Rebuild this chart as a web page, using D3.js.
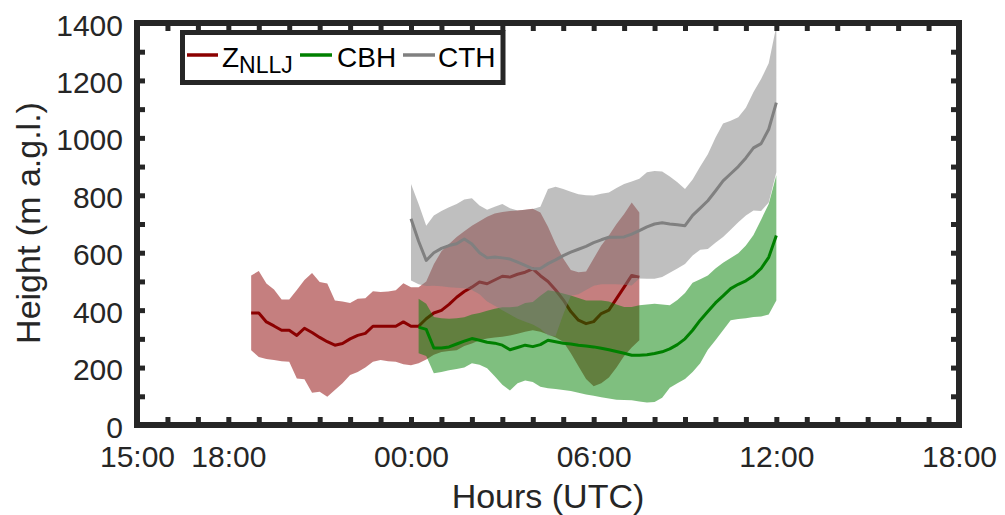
<!DOCTYPE html>
<html>
<head>
<meta charset="utf-8">
<script src="https://cdn.jsdelivr.net/npm/d3@7"></script>
<style>
  html, body { margin: 0; padding: 0; background: #fff; }
  svg { display: block; font-family: "Liberation Sans", Arial, Helvetica, sans-serif; }
</style>
</head>
<body>
<svg id="chart" width="1005" height="515"></svg>
<script>
// ---- data (hours relative to 00:00 UTC; heights in m a.g.l.) ----
const nlljTime = [-5.25,-5,-4.75,-4.5,-4.25,-4,-3.75,-3.5,-3.25,-3,-2.75,-2.5,-2.25,-2,-1.75,-1.5,-1.25,-1,-0.75,-0.5,-0.25,0,0.25,0.5,0.75,1,1.25,1.5,1.75,2,2.25,2.5,2.75,3,3.25,3.5,3.75,4,4.25,4.5,4.75,5,5.25,5.5,5.75,6,6.25,6.5,6.75,7,7.25,7.5];
const nlljMean  = [390,390,359,345,330,330,312,337,322,305,290,278,284,300,312,319,344,344,344,344,359,344,344,370,390,399,420,445,465,480,498,492,505,518,515,525,532,544,520,500,470,436,395,365,353,360,388,400,440,480,521,515];
const nlljUpper = [521,536,493,472,437,437,470,505,529,498,493,434,430,425,440,441,466,463,465,469,494,480,480,500,560,605,630,655,675,694,710,725,737,742,745,747,750,753,740,690,630,580,540,532,535,580,625,660,700,735,775,740];
const nlljLower = [260,237,230,226,222,220,162,159,112,116,98,122,145,174,185,200,220,226,222,220,212,208,215,228,245,254,258,260,275,284,295,301,305,307,312,318,325,330,325,315,305,290,250,205,160,135,145,165,200,240,270,295];

const cbhTime = [0.25,0.5,0.75,1,1.25,1.5,1.75,2,2.25,2.5,2.75,3,3.25,3.5,3.75,4,4.25,4.5,4.75,5,5.25,5.5,5.75,6,6.25,6.5,6.75,7,7.25,7.5,7.75,8,8.25,8.5,8.75,9,9.25,9.5,9.75,10,10.25,10.5,10.75,11,11.25,11.5,11.75,12];
const cbhMean  = [341,333,268,268,272,282,292,301,295,288,285,278,262,270,278,273,280,295,290,285,282,278,275,272,267,262,256,250,243,243,245,249,255,265,280,300,330,365,395,425,450,475,490,502,520,545,584,660];
const cbhUpper = [440,422,376,372,370,372,375,385,390,398,405,410,410,413,425,428,450,469,465,458,451,442,434,434,434,430,420,411,411,417,420,422,420,417,435,460,495,508,521,545,565,582,598,625,662,715,770,870];
const cbhLower = [250,240,180,185,191,195,200,215,210,198,170,140,120,145,155,150,133,128,125,122,118,112,106,102,97,92,88,87,86,82,78,80,95,130,145,160,185,215,262,295,330,365,369,372,376,378,385,434];

const cthTime = [0,0.25,0.5,0.75,1,1.25,1.5,1.75,2,2.25,2.5,2.75,3,3.25,3.5,3.75,4,4.25,4.5,4.75,5,5.25,5.5,5.75,6,6.25,6.5,6.75,7,7.25,7.5,7.75,8,8.25,8.5,8.75,9,9.25,9.5,9.75,10,10.25,10.5,10.75,11,11.25,11.5,11.75,12];
const cthMean  = [718,640,573,600,615,625,631,648,630,600,582,585,582,578,567,556,544,545,562,575,590,602,612,622,635,645,654,654,655,665,677,690,700,704,700,697,694,730,755,781,815,850,875,900,930,965,980,1030,1123];
const cthUpper = [839,770,694,730,745,758,770,785,790,764,750,760,770,755,747,750,752,760,822,830,822,812,804,800,799,805,810,825,839,848,858,880,885,883,865,845,822,855,900,943,1000,1050,1060,1072,1105,1160,1205,1260,1389];
const cthLower = [503,490,484,485,483,480,478,476,470,455,430,415,400,385,370,360,350,335,312,310,385,450,455,470,485,490,490,490,488,486,510,509,509,515,530,545,561,590,610,613,635,655,680,706,730,747,745,775,880];

const xTickHours  = [-9,-8,-7,-6,-5,-4,-3,-2,-1,0,1,2,3,4,5,6,7,8,9,10,11,12,13,14,15,16,17,18];
const xLabelHours = [-9,-6,0,6,12,18];
const xLabels     = ["15:00","18:00","00:00","06:00","12:00","18:00"];
const yTicks      = [0,100,200,300,400,500,600,700,800,900,1000,1100,1200,1300,1400];
const yLabelTicks = [0,200,400,600,800,1000,1200,1400];

const seriesNames  = ["NLLJ","CBH","CTH"];
const seriesColors = ["#8b0000","#008000","#808080"];

// ---- drawing ----
const ink = "#262626";
const svg = d3.select("#chart");
const x = d3.scaleLinear().domain([-9, 18]).range([137, 959]);
const y = d3.scaleLinear().domain([0, 1400]).range([425, 23]);

function pack(t, m, lo, hi) { return t.map((d, i) => ({t: d, m: m[i], lo: lo[i], hi: hi[i]})); }
const series = [
  pack(nlljTime, nlljMean, nlljLower, nlljUpper),
  pack(cbhTime, cbhMean, cbhLower, cbhUpper),
  pack(cthTime, cthMean, cthLower, cthUpper)
];

const area = d3.area().x(d => x(d.t)).y0(d => y(d.lo)).y1(d => y(d.hi));
const line = d3.line().x(d => x(d.t)).y(d => y(d.m));

const defs = svg.append("defs");
defs.append("clipPath").attr("id", "clip").append("rect")
  .attr("x", x(-9)).attr("y", y(1400)).attr("width", x(18) - x(-9)).attr("height", y(0) - y(1400));

const plot = svg.append("g").attr("clip-path", "url(#clip)");
series.forEach((s, i) => {
  plot.append("path").datum(s).attr("d", area)
    .attr("fill", seriesColors[i]).attr("fill-opacity", 0.5).attr("stroke", "none");
  plot.append("path").datum(s).attr("d", line)
    .attr("fill", "none").attr("stroke", seriesColors[i]).attr("stroke-width", 3)
    .attr("stroke-linejoin", "round");
});

// axes
const xLab = d => { const k = xLabelHours.indexOf(d); return k >= 0 ? xLabels[k] : ""; };
const yLab = d => yLabelTicks.indexOf(d) >= 0 ? String(d) : "";

const gx = svg.append("g").attr("transform", `translate(0,${y(0)})`)
  .call(d3.axisBottom(x).tickValues(xTickHours).tickSize(-8).tickPadding(21).tickFormat(xLab));
const gxt = svg.append("g").attr("transform", `translate(0,${y(1400)})`)
  .call(d3.axisTop(x).tickValues(xTickHours).tickSize(-8).tickFormat(""));
const gy = svg.append("g").attr("transform", `translate(${x(-9)},0)`)
  .call(d3.axisLeft(y).tickValues(yTicks).tickSize(-8).tickPadding(14).tickFormat(yLab));
const gyr = svg.append("g").attr("transform", `translate(${x(18)},0)`)
  .call(d3.axisRight(y).tickValues(yTicks).tickSize(-8).tickFormat(""));

[gx, gxt, gy, gyr].forEach(g => {
  g.select(".domain").remove();
  g.selectAll(".tick line").attr("stroke", ink).attr("stroke-width", 5);
  g.selectAll(".tick text").attr("fill", ink).attr("font-size", 30)
    .attr("font-family", '"Liberation Sans", Arial, sans-serif');
});
gy.selectAll(".tick text").attr("dy", "0.4em");

svg.append("rect").attr("x", x(-9)).attr("y", y(1400))
  .attr("width", x(18) - x(-9)).attr("height", y(0) - y(1400))
  .attr("fill", "none").attr("stroke", ink).attr("stroke-width", 6);

// axis labels
svg.append("text").attr("x", 548).attr("y", 508).attr("text-anchor", "middle")
  .attr("font-size", 34).attr("fill", ink).text("Hours (UTC)");
svg.append("text").attr("transform", "translate(40,223) rotate(-90)").attr("text-anchor", "middle")
  .attr("font-size", 34).attr("fill", ink).text("Height (m a.g.l.)");

// legend
const lg = svg.append("g");
lg.append("rect").attr("x", 182.5).attr("y", 32.5).attr("width", 320.5).attr("height", 50)
  .attr("fill", "#fff").attr("stroke", ink).attr("stroke-width", 5);
const legendItems = [
  {x1: 187, x2: 218, tx: 222},
  {x1: 300, x2: 332, tx: 337},
  {x1: 403, x2: 435, tx: 438}
];
legendItems.forEach((it, i) => {
  lg.append("line").attr("x1", it.x1).attr("x2", it.x2).attr("y1", 55).attr("y2", 55)
    .attr("stroke", seriesColors[i]).attr("stroke-width", 3.5);
  const t = lg.append("text").attr("x", it.tx).attr("y", 67).attr("font-size", 28).attr("fill", "#000");
  if (seriesNames[i] === "NLLJ") {
    t.append("tspan").text("Z");
    t.append("tspan").attr("font-size", 23).attr("dy", 6).text("NLLJ");
  } else {
    t.text(seriesNames[i]);
  }
});
</script>
</body>
</html>
